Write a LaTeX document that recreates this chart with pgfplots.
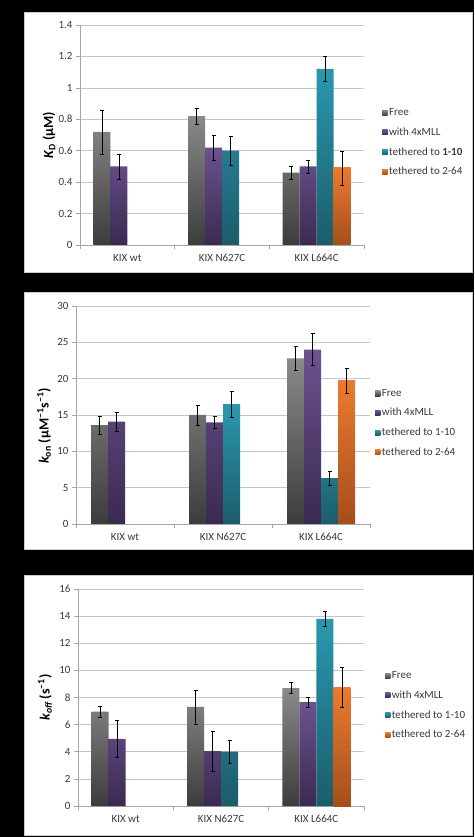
\documentclass[border=0pt]{standalone}
\usepackage{pgfplots}
\pgfplotsset{compat=1.18}
\usepackage{fontspec}
\setmainfont{Carlito}

% bar gradients (top / bottom) and legend swatches
\definecolor{freeT}{HTML}{8A8A8A}\definecolor{freeB}{HTML}{3C3C3C}\definecolor{freeL}{HTML}{505050}
\definecolor{mllT}{HTML}{6C5290}\definecolor{mllB}{HTML}{3A2A50}\definecolor{mllL}{HTML}{3E3060}
\definecolor{tenT}{HTML}{2A98B0}\definecolor{tenB}{HTML}{1C5C6A}\definecolor{tenL}{HTML}{1F7484}
\definecolor{sixT}{HTML}{EC7A2E}\definecolor{sixB}{HTML}{A44E1C}\definecolor{sixL}{HTML}{D2692A}
\definecolor{gridgray}{HTML}{C6C6C6}
\definecolor{axisgray}{HTML}{A6A6A6}
\definecolor{labgray}{HTML}{3A3A3A}

% whisker with a cap at its outer end
\pgfplotsset{
  error bars/draw error bar/.code 2 args={%
    \draw[black, line width=0.6pt] #1 -- #2 ++(-3pt,0) -- ++(6pt,0);%
  },
}

\pgfplotsset{
  kixbars/.style={
    scale only axis,
    ybar=0pt, bar width=17pt,
    xmin=-0.5, xmax=2.5, ymin=0,
    axis lines*=left,
    axis line style={draw=axisgray, line width=0.6pt},
    tick align=outside,
    major tick length=4pt,
    tick style={draw=axisgray, line width=0.6pt},
    xtick={0,1,2},
    xticklabels={KIX wt, KIX N627C, KIX L664C},
    major x tick style={draw=none},
    extra x ticks={-0.5,0.5,1.5,2.5},
    extra x tick labels={},
    extra x tick style={major x tick style={draw=axisgray}, grid=none},
    ymajorgrids,
    grid style={draw=gridgray, line width=0.6pt},
    /pgf/number format/assume math mode=true,
    ticklabel style={font=\fontsize{11}{13}\selectfont, text=labgray},
    xticklabel style={yshift=-2pt},
    ylabel style={font=\fontsize{14}{16}\selectfont\bfseries, text=black},
    legend cell align=left,
    legend style={draw=none, fill=none, anchor=west, inner sep=0pt,
      font=\fontsize{11}{13}\selectfont, text=labgray,
      row sep=7.6pt, nodes={inner sep=1.5pt}},
    error bars/y dir=both, error bars/y explicit,
  },
  freebar/.style={draw=none, top color=freeT, bottom color=freeB,
    legend image code/.code={\fill[freeL] (0pt,-2.6pt) rectangle (5.2pt,2.6pt);}},
  mllbar/.style={draw=none, top color=mllT, bottom color=mllB,
    legend image code/.code={\fill[mllL] (0pt,-2.6pt) rectangle (5.2pt,2.6pt);}},
  tenbar/.style={draw=none, top color=tenT, bottom color=tenB,
    legend image code/.code={\fill[tenL] (0pt,-2.6pt) rectangle (5.2pt,2.6pt);}},
  sixbar/.style={draw=none, top color=sixT, bottom color=sixB,
    legend image code/.code={\fill[sixL] (0pt,-2.6pt) rectangle (5.2pt,2.6pt);}},
}

\begin{document}
\begin{tikzpicture}
% page background and the three panels
\fill[black] (0pt,0pt) rectangle (474pt,837pt);
\filldraw[fill=white, draw=gray!40] (24pt,565pt) rectangle (472pt,825pt);
\filldraw[fill=white, draw=gray!40] (24pt,288pt) rectangle (472pt,545pt);
\filldraw[fill=white, draw=gray!40] (24pt,2pt) rectangle (472pt,262pt);

% ---- dissociation constant ----
\begin{axis}[kixbars,
  at={(80pt,592pt)}, anchor=south west,
  width=284pt, height=220pt,
  ymax=1.4, ytick={0,0.2,...,1.4},
  ylabel={\itshape K\textsubscript{\upshape D}\upshape\ (µM)},
  ylabel style={at={(rel axis cs:0,0.5)}, anchor=center, yshift=31pt},
  legend style={at={(1.064,0.466)}},
]
\addplot[freebar] coordinates {(0,0.72) +- (0,0.14) (1,0.82) +- (0,0.05) (2,0.46) +- (0,0.04)};
\addplot[mllbar]  coordinates {(0,0.50) +- (0,0.08) (1,0.62) +- (0,0.08) (2,0.50) +- (0,0.04)};
\addplot[tenbar]  coordinates {(1,0.60) +- (0,0.09) (2,1.12) +- (0,0.08)};
\addplot[sixbar]  coordinates {(2,0.49) +- (0,0.11)};
\legend{Free, with 4xMLL, tethered to \textbf{1-10}, tethered to 2-64}
\end{axis}

% ---- association rate constant ----
\begin{axis}[kixbars,
  at={(76pt,313pt)}, anchor=south west,
  width=294pt, height=218pt,
  ymax=30, ytick={0,5,...,30},
  ylabel={\itshape k\textsubscript{\upshape on}\upshape\ (µM\textsuperscript{–1}s\textsuperscript{–1})},
  ylabel style={at={(rel axis cs:0,0.45)}, anchor=center, yshift=32pt},
  legend style={at={(1.017,0.463)}},
]
\addplot[freebar] coordinates {(0,13.6) +- (0,1.2) (1,15.0) +- (0,1.4) (2,22.8) +- (0,1.7)};
\addplot[mllbar]  coordinates {(0,14.1) +- (0,1.3) (1,14.0) +- (0,0.8) (2,24.0) +- (0,2.2)};
\addplot[tenbar]  coordinates {(1,16.5) +- (0,1.8) (2,6.3) +- (0,1.0)};
\addplot[sixbar]  coordinates {(2,19.7) +- (0,1.7)};
\legend{Free, with 4xMLL, tethered to 1-10, tethered to 2-64}
\end{axis}

% ---- dissociation rate constant ----
\begin{axis}[kixbars,
  at={(78pt,31pt)}, anchor=south west,
  width=286pt, height=217pt,
  ymax=16, ytick={0,2,...,16},
  ylabel={\itshape k\textsubscript{off}\upshape\ (s\textsuperscript{–1})},
  ylabel style={at={(rel axis cs:0,0.5)}, anchor=center, yshift=33pt},
  legend style={at={(1.073,0.463)}},
]
\addplot[freebar] coordinates {(0,6.95) +- (0,0.4) (1,7.3) +- (0,1.25) (2,8.7) +- (0,0.4)};
\addplot[mllbar]  coordinates {(0,4.95) +- (0,1.35) (1,4.05) +- (0,1.5) (2,7.65) +- (0,0.35)};
\addplot[tenbar]  coordinates {(1,4.0) +- (0,0.85) (2,13.8) +- (0,0.55)};
\addplot[sixbar]  coordinates {(2,8.75) +- (0,1.5)};
\legend{Free, with 4xMLL, tethered to 1-10, tethered to 2-64}
\end{axis}
\end{tikzpicture}
\end{document}
